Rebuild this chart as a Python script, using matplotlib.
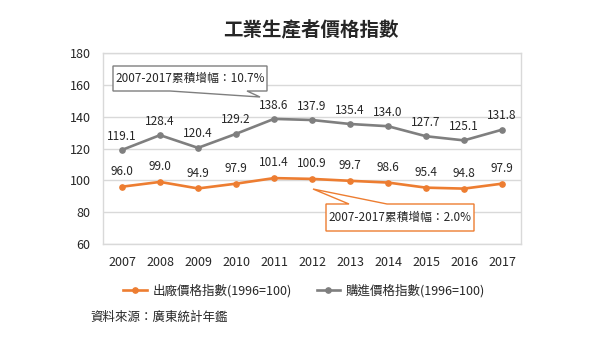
import matplotlib
matplotlib.use("Agg")
import matplotlib.pyplot as plt
from matplotlib.patches import Polygon

plt.rcParams['font.family'] = ['Noto Sans CJK TC', 'DejaVu Sans']

years = ['2007', '2008', '2009', '2010', '2011', '2012', '2013', '2014', '2015', '2016', '2017']
ex_factory = [96.0, 99.0, 94.9, 97.9, 101.4, 100.9, 99.7, 98.6, 95.4, 94.8, 97.9]
purchase = [119.1, 128.4, 120.4, 129.2, 138.6, 137.9, 135.4, 134.0, 127.7, 125.1, 131.8]
series_names = ['出廠價格指數(1996=100)', '購進價格指數(1996=100)']
title = '工業生產者價格指數'
source = '資料來源：廣東統計年鑑'
note_purchase = '2007-2017累積增幅：10.7%'
note_factory = '2007-2017累積增幅：2.0%'
yticks = [60, 80, 100, 120, 140, 160, 180]

ORANGE = '#ED7D31'
GRAY = '#7F7F7F'
GRID = '#D9D9D9'

W, H = 600, 340
fig = plt.figure(figsize=(6, 3.4), dpi=100)
ax = fig.add_axes([103 / W, 1 - 244 / H, (521 - 103) / W, (244 - 53) / H])

x = list(range(len(years)))
l1, = ax.plot(x, ex_factory, color=ORANGE, lw=1.9, marker='o', ms=3.8, zorder=3)
l2, = ax.plot(x, purchase, color=GRAY, lw=1.9, marker='o', ms=3.8, zorder=3)

for xi, v in zip(x, ex_factory):
    ax.annotate(f'{v:.1f}', (xi, v), xytext=(0, 11), textcoords='offset points',
                ha='center', va='center', fontsize=8.5, color='#262626')
for xi, v in zip(x, purchase):
    ax.annotate(f'{v:.1f}', (xi, v), xytext=(0, 10), textcoords='offset points',
                ha='center', va='center', fontsize=8.5, color='#262626')

ax.set_xlim(-0.5, len(years) - 0.5)
ax.set_ylim(60, 180)
ax.set_yticks(yticks)
ax.set_xticks(x)
ax.set_xticklabels(years)
ax.tick_params(length=0, labelsize=9, colors='#262626')
ax.tick_params(axis='x', pad=9)
ax.tick_params(axis='y', pad=9)
ax.grid(axis='y', color=GRID, lw=1)
ax.set_axisbelow(True)
for s in ax.spines.values():
    s.set_color(GRID)
    s.set_linewidth(1)

fig.text(311 / W, 1 - 30 / H, title, ha='center', va='center', fontsize=14, fontweight='bold', color='#262626')


def px(pts):
    return [(a / W, 1 - b / H) for a, b in pts]


top_shape = [(113, 66), (267, 66), (267, 91), (247, 91), (260, 97), (170, 91), (113, 91)]
fig.patches.append(Polygon(px(top_shape), closed=True, transform=fig.transFigure,
                           facecolor='white', edgecolor=GRAY, lw=1, zorder=5))
fig.text(190 / W, 1 - 78.5 / H, note_purchase, ha='center', va='center', fontsize=8.5, color='#262626', zorder=6)

bot_shape = [(326, 204), (349, 204), (313, 189), (387, 204), (474, 204), (474, 231), (326, 231)]
fig.patches.append(Polygon(px(bot_shape), closed=True, transform=fig.transFigure,
                           facecolor='white', edgecolor=ORANGE, lw=1, zorder=5))
fig.text(400 / W, 1 - 217.5 / H, note_factory, ha='center', va='center', fontsize=8.5, color='#262626', zorder=6)

fig.legend([l1, l2], series_names, loc='center', bbox_to_anchor=(304 / W, 1 - 291 / H),
           ncol=2, frameon=False, fontsize=9, handlelength=1.9, handletextpad=0.45,
           columnspacing=2.0, labelcolor='#262626')

fig.text(90 / W, 1 - 317 / H, source, ha='left', va='center', fontsize=9, color='#262626')

fig.savefig('out.png', dpi=100)
